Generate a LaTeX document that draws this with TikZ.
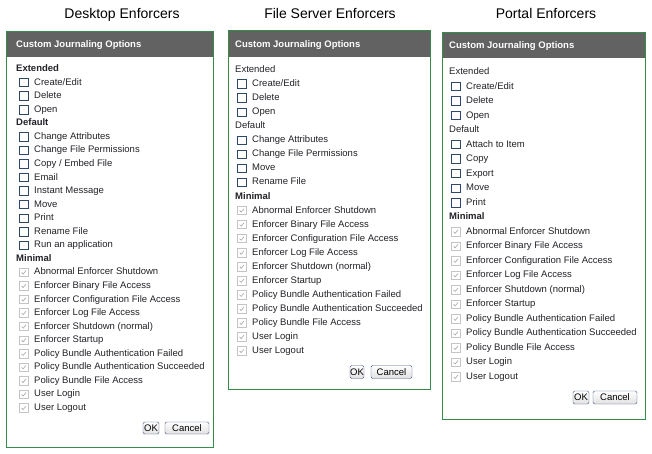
\documentclass[tikz,border=0pt]{standalone}
\usepackage{fontspec}
\setmainfont{Liberation Sans}
\usepackage{tikz}
\usepackage{xcolor}
\usetikzlibrary{positioning}

\definecolor{frameGreen}{RGB}{52,140,72}
\definecolor{headGray}{RGB}{98,98,98}
\definecolor{boxBlue}{RGB}{45,72,104}
\definecolor{offGray}{RGB}{196,196,196}
\definecolor{tickGray}{RGB}{165,165,165}
\definecolor{itemText}{RGB}{34,34,40}
\definecolor{btnEdge}{RGB}{70,90,125}

\begin{document}
\begin{tikzpicture}[x=1pt,y=-1pt,label distance=5.5pt,
  title/.style={anchor=base,font=\fontsize{14}{16}\selectfont},
  frame/.style={draw=frameGreen,line width=1pt},
  head/.style={fill=headGray},
  headtext/.style={anchor=west,text=white,font=\fontsize{9.5}{11}\selectfont\bfseries},
  sect/.style={anchor=west,text=itemText,text height=7pt,text depth=2pt,font=\fontsize{9.5}{11}\selectfont},
  sectb/.style={sect,font=\fontsize{9.5}{11}\selectfont\bfseries},
  cbox/.style={draw=boxBlue,line width=0.8pt,fill=white,minimum size=8.5pt},
  cboxon/.style={draw=offGray,line width=0.8pt,fill=white,minimum size=8.5pt,
    path picture={\draw[tickGray,line width=0.6pt] ([xshift=-2.2pt]path picture bounding box.center) -- ++(1.5pt,-1.6pt) -- ++(2.8pt,3.4pt);}},
  opt/.style={anchor=west,text=itemText,text height=7pt,text depth=2pt,font=\fontsize{9.5}{11}\selectfont,label={[cbox]left:{}}},
  optOn/.style={anchor=west,text=itemText,text height=7pt,text depth=2pt,font=\fontsize{9.5}{11}\selectfont,label={[cboxon]left:{}}},
  btn/.style={draw=btnEdge,rounded corners=1.5pt,top color=white,bottom color=black!12,text=black,font=\fontsize{9.5}{11}\selectfont}
]
\tikzstyle{every node}+=[inner sep=0pt]
\useasboundingbox (0,0) rectangle (652,453);
\fill[white] (0,0) rectangle (652,453);

\node[title] (tDesk) at (122,18) {Desktop Enforcers};
\node[title] (tFile) at (330,18) {File Server Enforcers};
\node[title] (tPortal) at (546,18) {Portal Enforcers};

\fill[head] (7,32) rectangle (213,57);
\draw[frame] (6,31) rectangle (213,447);
\node[headtext] (dHead) at (16,45) {Custom Journaling Options};
\node[sectb] (d0) at (16,69) {Extended};
\node[opt] (d1) at (34,82.6) {Create/Edit};
\node[opt] (d2) at (34,96.1) {Delete};
\node[opt] (d3) at (34,109.7) {Open};
\node[sectb] (d4) at (16,123.2) {Default};
\node[opt] (d5) at (34,136.8) {Change Attributes};
\node[opt] (d6) at (34,150.4) {Change File Permissions};
\node[opt] (d7) at (34,163.9) {Copy / Embed File};
\node[opt] (d8) at (34,177.5) {Email};
\node[opt] (d9) at (34,191) {Instant Message};
\node[opt] (d10) at (34,204.6) {Move};
\node[opt] (d11) at (34,218.2) {Print};
\node[opt] (d12) at (34,231.7) {Rename File};
\node[opt] (d13) at (34,245.3) {Run an application};
\node[sectb] (d14) at (16,258.8) {Minimal};
\node[optOn] (d15) at (34,272.4) {Abnormal Enforcer Shutdown};
\node[optOn] (d16) at (34,286) {Enforcer Binary File Access};
\node[optOn] (d17) at (34,299.5) {Enforcer Configuration File Access};
\node[optOn] (d18) at (34,313.1) {Enforcer Log File Access};
\node[optOn] (d19) at (34,326.6) {Enforcer Shutdown (normal)};
\node[optOn] (d20) at (34,340.2) {Enforcer Startup};
\node[optOn] (d21) at (34,353.8) {Policy Bundle Authentication Failed};
\node[optOn] (d22) at (34,367.3) {Policy Bundle Authentication Succeeded};
\node[optOn] (d23) at (34,380.9) {Policy Bundle File Access};
\node[optOn] (d24) at (34,394.4) {User Login};
\node[optOn] (d25) at (34,408) {User Logout};
\node[btn,minimum width=16pt,minimum height=12pt] (dOk) at (151,428) {OK};
\node[btn,minimum width=44pt,minimum height=12pt] (dCancel) at (187,428) {Cancel};

\fill[head] (229,31) rectangle (430,57);
\draw[frame] (228,30) rectangle (430,389);
\node[headtext] (fHead) at (235,45) {Custom Journaling Options};
\node[sect] (f0) at (235,70) {Extended};
\node[opt] (f1) at (252,84.1) {Create/Edit};
\node[opt] (f2) at (252,98.1) {Delete};
\node[opt] (f3) at (252,112.2) {Open};
\node[sect] (f4) at (235,126.2) {Default};
\node[opt] (f5) at (252,140.3) {Change Attributes};
\node[opt] (f6) at (252,154.3) {Change File Permissions};
\node[opt] (f7) at (252,168.4) {Move};
\node[opt] (f8) at (252,182.4) {Rename File};
\node[sectb] (f9) at (235,196.5) {Minimal};
\node[optOn] (f10) at (252,210.5) {Abnormal Enforcer Shutdown};
\node[optOn] (f11) at (252,224.6) {Enforcer Binary File Access};
\node[optOn] (f12) at (252,238.6) {Enforcer Configuration File Access};
\node[optOn] (f13) at (252,252.7) {Enforcer Log File Access};
\node[optOn] (f14) at (252,266.7) {Enforcer Shutdown (normal)};
\node[optOn] (f15) at (252,280.8) {Enforcer Startup};
\node[optOn] (f16) at (252,294.8) {Policy Bundle Authentication Failed};
\node[optOn] (f17) at (252,308.9) {Policy Bundle Authentication Succeeded};
\node[optOn] (f18) at (252,322.9) {Policy Bundle File Access};
\node[optOn] (f19) at (252,337) {User Login};
\node[optOn] (f20) at (252,351) {User Logout};
\node[btn,minimum width=14pt,minimum height=13pt] (fOk) at (357,372) {OK};
\node[btn,minimum width=41pt,minimum height=13pt] (fCancel) at (391.5,372) {Cancel};

\fill[head] (443,33) rectangle (645,58);
\draw[frame] (442,32) rectangle (645,419);
\node[headtext] (pHead) at (449,46) {Custom Journaling Options};
\node[sect] (p0) at (449,72) {Extended};
\node[opt] (p1) at (466,86.5) {Create/Edit};
\node[opt] (p2) at (466,101) {Delete};
\node[opt] (p3) at (466,115.6) {Open};
\node[sect] (p4) at (449,130.1) {Default};
\node[opt] (p5) at (466,144.6) {Attach to Item};
\node[opt] (p6) at (466,159.1) {Copy};
\node[opt] (p7) at (466,173.6) {Export};
\node[opt] (p8) at (466,188.2) {Move};
\node[opt] (p9) at (466,202.7) {Print};
\node[sectb] (p10) at (449,217.2) {Minimal};
\node[optOn] (p11) at (466,231.7) {Abnormal Enforcer Shutdown};
\node[optOn] (p12) at (466,246.2) {Enforcer Binary File Access};
\node[optOn] (p13) at (466,260.8) {Enforcer Configuration File Access};
\node[optOn] (p14) at (466,275.3) {Enforcer Log File Access};
\node[optOn] (p15) at (466,289.8) {Enforcer Shutdown (normal)};
\node[optOn] (p16) at (466,304.3) {Enforcer Startup};
\node[optOn] (p17) at (466,318.8) {Policy Bundle Authentication Failed};
\node[optOn] (p18) at (466,333.4) {Policy Bundle Authentication Succeeded};
\node[optOn] (p19) at (466,347.9) {Policy Bundle File Access};
\node[optOn] (p20) at (466,362.4) {User Login};
\node[optOn] (p21) at (466,376.9) {User Logout};
\node[btn,minimum width=16pt,minimum height=13pt] (pOk) at (581,397.5) {OK};
\node[btn,minimum width=44pt,minimum height=13pt] (pCancel) at (615,397.5) {Cancel};
\end{tikzpicture}
\end{document}
